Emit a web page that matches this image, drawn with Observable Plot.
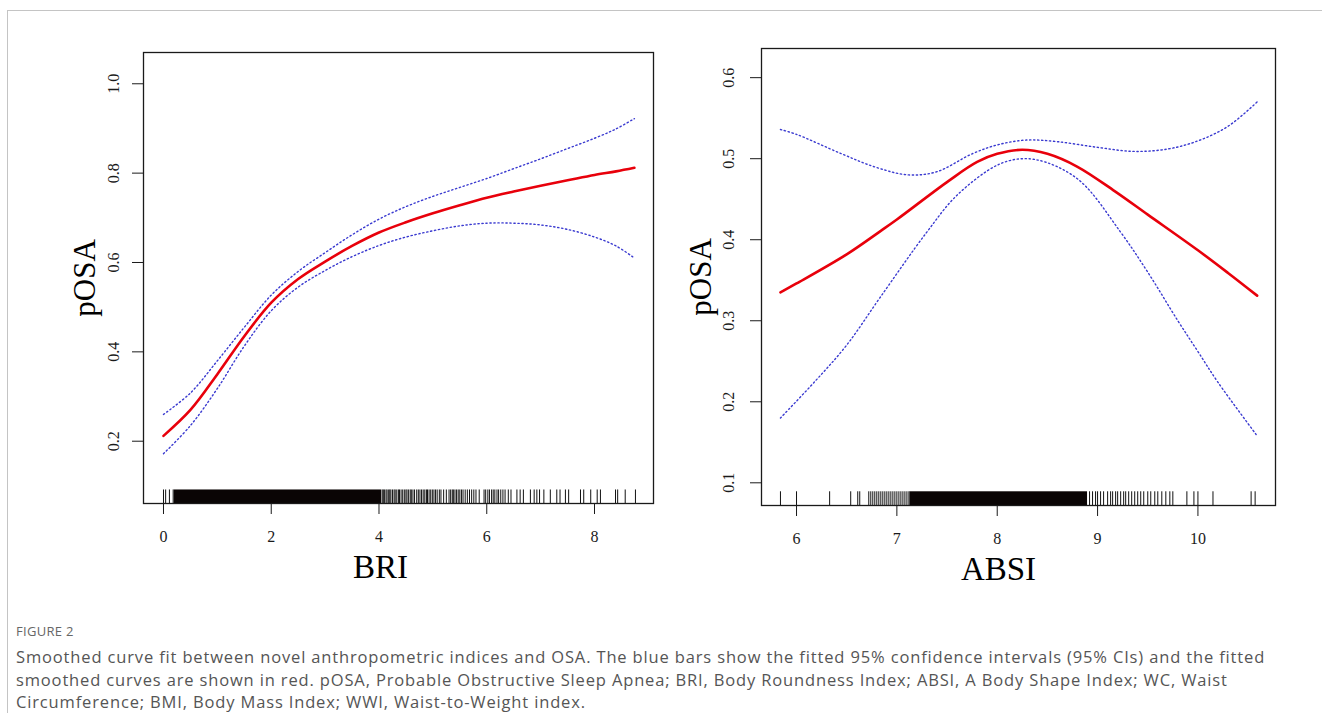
<!DOCTYPE html>
<html>
<head>
<meta charset="utf-8">
<script src="https://cdn.jsdelivr.net/npm/d3@7"></script>
<script src="https://cdn.jsdelivr.net/npm/@observablehq/plot@0.6"></script>
<style>
  html, body { margin: 0; padding: 0; background: #fff; }
  body { width: 1322px; height: 713px; position: relative; overflow: hidden; }
  #topline { position: absolute; left: 7px; top: 10px; width: 1315px; height: 1px; background: #c4c4c4; z-index: 5; }
  #leftline { position: absolute; left: 7px; top: 10px; width: 1px; height: 703px; background: #c4c4c4; z-index: 5; }
  #left { position: absolute; left: 0; top: 0; }
  #right { position: absolute; left: 660px; top: 0; }
  #caption { position: absolute; left: 16px; top: 622px; width: 1300px; font-family: "Open Sans", sans-serif; color: #555; }
  #caption .fig { font-size: 13px; line-height: 18px; color: #666; letter-spacing: 0.3px; margin-bottom: 6px; }
  #caption .line { font-size: 16.5px; line-height: 22.5px; letter-spacing: 0.85px; white-space: nowrap; }
</style>
</head>
<body>
<div id="topline"></div>
<div id="leftline"></div>
<div id="left"></div>
<div id="right"></div>
<div id="caption">
  <div class="fig">FIGURE 2</div>
  <div class="line">Smoothed curve fit between novel anthropometric indices and OSA. The blue bars show the fitted 95% confidence intervals (95% CIs) and the fitted</div>
  <div class="line">smoothed curves are shown in red. pOSA, Probable Obstructive Sleep Apnea; BRI, Body Roundness Index; ABSI, A Body Shape Index; WC, Waist</div>
  <div class="line">Circumference; BMI, Body Mass Index; WWI, Waist-to-Weight index.</div>
</div>
<script>
// ---------- BRI panel data ----------
const briX     = [0, 0.5, 1, 1.5, 2, 2.5, 3, 3.5, 4, 4.5, 5, 5.5, 6, 6.5, 7, 7.5, 8, 8.4, 8.74];
const briFit   = [0.212, 0.27, 0.35, 0.435, 0.51, 0.563, 0.602, 0.637, 0.667, 0.69, 0.71, 0.728, 0.745, 0.759, 0.772, 0.784, 0.796, 0.804, 0.812];
const briUpper = [0.26, 0.308, 0.38, 0.455, 0.527, 0.58, 0.622, 0.662, 0.697, 0.725, 0.748, 0.768, 0.788, 0.81, 0.832, 0.855, 0.878, 0.899, 0.922];
const briLower = [0.172, 0.235, 0.318, 0.413, 0.492, 0.545, 0.582, 0.613, 0.638, 0.657, 0.671, 0.682, 0.688, 0.688, 0.684, 0.674, 0.657, 0.637, 0.61];
const briRugSolid = [[0.2, 4.05]];
const briRug = [0.0, 0.04, 0.11, 0.18,
  4.06,4.08,4.1,4.13,4.15,4.18,4.2,4.22,4.25,4.28,4.3,4.33,4.36,4.38,4.41,4.44,4.47,4.5,4.52,4.55,4.58,4.6,4.63,4.66,4.7,4.73,4.76,4.79,4.82,4.85,4.88,4.9,4.93,4.96,4.99,5.02,5.05,5.08,
  5.12,5.15,5.2,5.25,
  5.3,5.33,5.36,5.38,5.41,5.44,5.47,5.5,5.53,5.56,5.6,5.64,5.68,5.72,5.76,5.8,5.86,
  5.95,5.98,6.02,6.05,6.09,6.12,6.15,6.19,6.22,6.26,6.3,6.34,6.4,6.45,
  6.56,6.62,6.68,6.81,6.88,6.93,6.98,7.06,
  7.18,7.3,7.36,7.46,7.52,
  7.74,7.8,7.93,8.05,8.11,
  8.39,8.43,8.57,8.76];
const briXTicks = [0, 2, 4, 6, 8];
const briYTicks = [0.2, 0.4, 0.6, 0.8, 1.0];

// ---------- ABSI panel data ----------
const absiFitX = [5.84, 6.0, 6.5, 6.84, 7.0, 7.52, 7.8, 8.0, 8.25, 8.5, 8.8, 9.17, 9.5, 10.0, 10.3, 10.59];
const absiFit  = [0.335, 0.346, 0.382, 0.411, 0.425, 0.473, 0.496, 0.506, 0.511, 0.506, 0.49, 0.46, 0.431, 0.387, 0.359, 0.331];
const absiUpX  = [5.84, 6.0, 6.45, 6.8, 7.12, 7.4, 7.75, 8.0, 8.29, 8.6, 9.0, 9.36, 9.7, 10.0, 10.3, 10.59];
const absiUp   = [0.536, 0.53, 0.506, 0.489, 0.48, 0.484, 0.506, 0.517, 0.523, 0.521, 0.514, 0.509, 0.512, 0.522, 0.54, 0.57];
const absiLoX  = [5.84, 6.19, 6.5, 6.84, 7.29, 7.6, 8.0, 8.25, 8.5, 8.83, 9.22, 9.5, 9.8, 10.0, 10.2, 10.59];
const absiLo   = [0.18, 0.226, 0.27, 0.33, 0.408, 0.455, 0.492, 0.5, 0.495, 0.472, 0.411, 0.36, 0.30, 0.262, 0.224, 0.158];
const absiRugSolid = [[7.13, 8.9]];
const absiRug = [5.84, 6.0, 6.33, 6.54, 6.61, 6.63,
  6.72,6.74,6.76,6.78,6.8,6.82,6.84,6.86,6.88,6.9,6.92,6.94,6.96,6.98,7.0,7.02,7.04,7.06,7.08,7.1,7.12,
  8.92,8.95,8.98,9.0,9.03,9.06,9.1,9.13,9.15,9.18,9.2,9.23,9.26,9.28,9.31,9.34,9.37,9.4,9.43,9.46,9.5,9.53,9.57,9.6,9.64,9.68,9.72,9.75,
  9.89, 9.96, 10.0, 10.15, 10.53, 10.57];
const absiXTicks = [6, 7, 8, 9, 10];
const absiYTicks = [0.1, 0.2, 0.3, 0.4, 0.5, 0.6];

const zip = (xs, ys) => xs.map((x, i) => ({x, y: ys[i]}));

function panel({width, height, mL, mR, mT, mB, xDom, yDom, fitX, fit, upX, up, loX, lo, rug, rugSolid, xTicks, yTicks, xLabel, xLabelDx, yLabelDx, yTickDx}) {
  const y0 = yDom[0], rugTop = yDom[0] + 0.03 * (yDom[1] - yDom[0]);
  return Plot.plot({
    width, height,
    marginLeft: mL, marginRight: mR, marginTop: mT, marginBottom: mB,
    x: {domain: xDom},
    y: {domain: yDom},
    style: {fontFamily: "'Liberation Serif', 'Times New Roman', serif", fontSize: "16px", color: "#1a1a1a", background: "transparent", overflow: "visible"},
    marks: [
      Plot.rect(rugSolid, {x1: d => d[0], x2: d => d[1], y1: y0, y2: rugTop, fill: "#0a0505"}),
      Plot.ruleX(rug, {x: d => d, y1: y0, y2: rugTop, stroke: "#111", strokeWidth: 1}),
      Plot.line(zip(upX, up), {x: "x", y: "y", curve: "catmull-rom", stroke: "#3a3ad0", strokeWidth: 1.4, strokeDasharray: "1.3,2.7"}),
      Plot.line(zip(loX, lo), {x: "x", y: "y", curve: "catmull-rom", stroke: "#3a3ad0", strokeWidth: 1.4, strokeDasharray: "1.3,2.7"}),
      Plot.line(zip(fitX, fit), {x: "x", y: "y", curve: "catmull-rom", stroke: "#e8000b", strokeWidth: 2.6}),
      Plot.frame({stroke: "#1a1a1a", strokeWidth: 1.3}),
      Plot.axisX(xTicks, {tickSize: 11, tickPadding: 16, label: null, fontSize: 16}),
      Plot.axisY(yTicks, {tickSize: 11, label: null, fill: "none"}),
      Plot.text(yTicks, {y: d => d, text: d => d.toFixed(1), frameAnchor: "left", textAnchor: "middle", dx: yTickDx, rotate: -90, fontSize: 16, letterSpacing: "2.5px", fill: "#1a1a1a"}),
      Plot.text([xLabel], {text: d => d, frameAnchor: "bottom", textAnchor: "middle", dy: 64, dx: xLabelDx, fontSize: 33, lineAnchor: "middle", fill: "#000"}),
      Plot.text(["pOSA"], {text: d => d, frameAnchor: "left", textAnchor: "middle", dx: yLabelDx, rotate: -90, fontSize: 31, lineAnchor: "middle", fill: "#000"})
    ]
  });
}

document.getElementById("left").append(panel({
  width: 660, height: 590, mL: 143, mR: 7, mT: 52, mB: 87,
  xDom: [-0.371, 9.095], yDom: [0.0606, 1.070],
  fitX: briX, fit: briFit, upX: briX, up: briUpper, loX: briX, lo: briLower,
  rug: briRug, rugSolid: briRugSolid, xTicks: briXTicks, yTicks: briYTicks,
  xLabel: "BRI", xLabelDx: -18, yLabelDx: -58, yTickDx: -30
}));

document.getElementById("right").append(panel({
  width: 662, height: 590, mL: 101, mR: 47, mT: 48, mB: 85,
  xDom: [5.651, 10.773], yDom: [0.072, 0.636],
  fitX: absiFitX, fit: absiFit, upX: absiUpX, up: absiUp, loX: absiLoX, lo: absiLo,
  rug: absiRug, rugSolid: absiRugSolid, xTicks: absiXTicks, yTicks: absiYTicks,
  xLabel: "ABSI", xLabelDx: -20, yLabelDx: -60, yTickDx: -33
}));
</script>
</body>
</html>
